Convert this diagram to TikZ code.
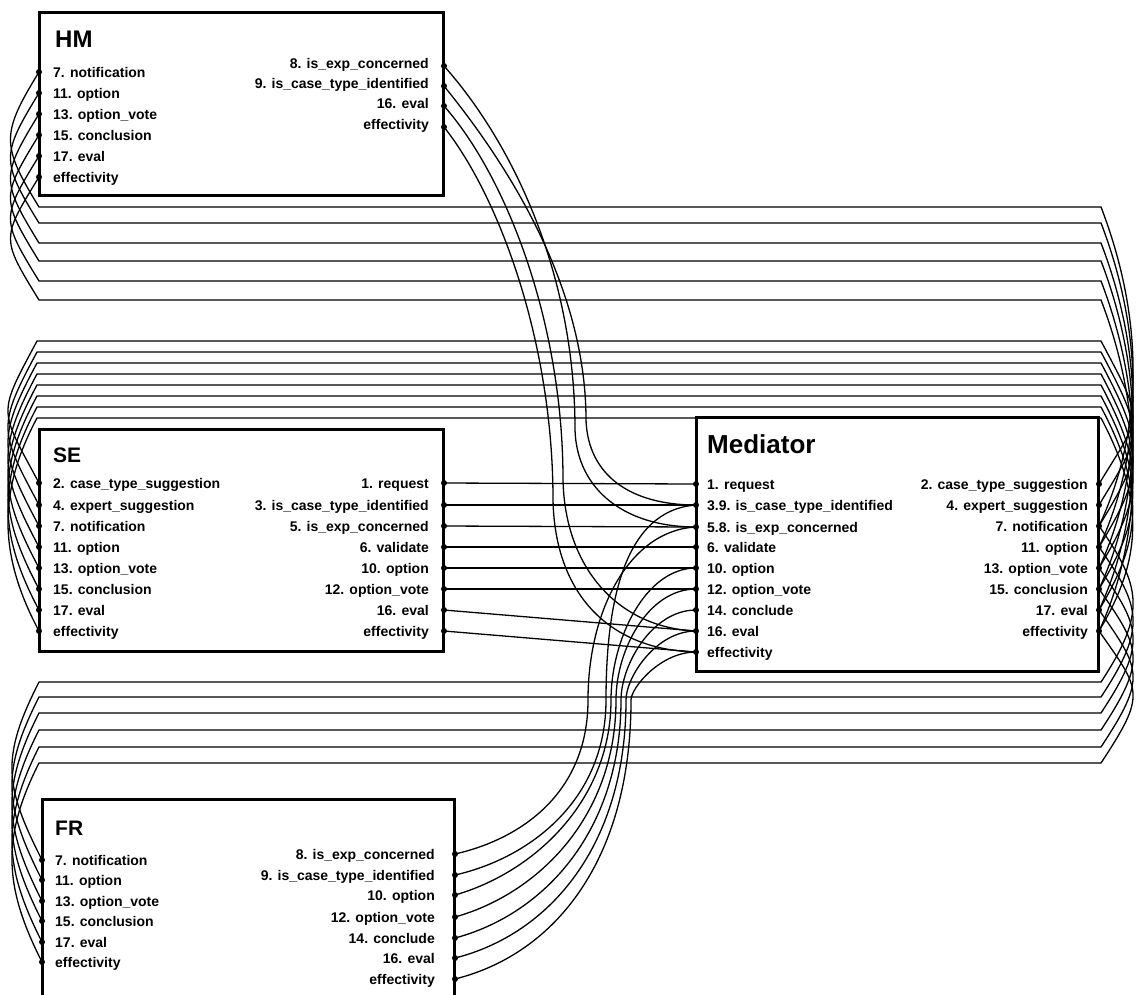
\documentclass[tikz,border=0pt]{standalone}
\usepackage{fontspec}
\setmainfont{Liberation Sans}
\begin{document}
\begin{tikzpicture}[x=1pt,y=-1pt,
  box/.style={draw=black, line width=3pt, fill=white, inner sep=0pt, outer sep=0pt},
  wire/.style={draw=black, line width=1.3pt},
  lbl/.style={font=\fontsize{14}{16}\selectfont\bfseries, inner sep=0pt, yshift=-5pt},
  lblL/.style={lbl, anchor=base west},
  lblR/.style={lbl, anchor=base east},
  ttl/.style={inner sep=0pt, anchor=base west}
]
\fill[white] (0,0) rectangle (1139,994);
\useasboundingbox (0,0) rectangle (1139,994);
\clip (0,0) rectangle (1139,994);

% boxes
\node[box, minimum width=404pt, minimum height=183pt] (HM) at (241,103.5) {};
\node[box, minimum width=404pt, minimum height=222pt] (SE) at (241,540) {};
\node[box, minimum width=402pt, minimum height=254pt] (MED) at (897,544) {};
\node[box, minimum width=412pt, minimum height=211pt] (FR) at (248,904.5) {};

% titles
\node[ttl, font=\fontsize{24}{26}\selectfont\bfseries] (hmT) at (55,47) {HM};
\node[ttl, font=\fontsize{21}{24}\selectfont\bfseries] (seT) at (53,462) {SE};
\node[ttl, font=\fontsize{26}{30}\selectfont\bfseries] (medT) at (707,453) {Mediator};
\node[ttl, font=\fontsize{21}{24}\selectfont\bfseries] (frT) at (55,835) {FR};

% ports
\foreach \i/\y in {1/72,2/93,3/114,4/135,5/156,6/177} \coordinate (hmL\i) at (39,\y);
\foreach \i/\y in {1/66,2/86,3/106,4/127} \coordinate (hmR\i) at (444,\y);
\foreach \i/\y in {1/483,2/505,3/526,4/547,5/568,6/589,7/610,8/631} {
  \coordinate (seL\i) at (39,\y); \coordinate (seR\i) at (444,\y);}
\foreach \i/\y in {1/484,2/505,3/527,4/547,5/568,6/589,7/610,8/631,9/652} \coordinate (mL\i) at (696,\y);
\foreach \i/\y in {1/484,2/505,3/526,4/547,5/568,6/589,7/610,8/631} \coordinate (mR\i) at (1099,\y);
\foreach \i/\y in {1/860,2/880,3/901,4/921,5/942,6/962} \coordinate (frL\i) at (42,\y);
\foreach \i/\y in {1/854,2/875,3/895,4/917,5/938,6/958,7/979} \coordinate (frR\i) at (455,\y);

% channel ends
\foreach \i/\y in {1/207,2/223,3/243,4/261,5/281,6/300} {
  \coordinate (aL\i) at (39,\y); \coordinate (aR\i) at (1101,\y);}
\foreach \i/\y in {1/341,2/352,3/363,4/374,5/385,6/396,7/407,8/418} {
  \coordinate (bL\i) at (37,\y); \coordinate (bR\i) at (1101,\y);}
\foreach \i/\y in {1/682,2/697,3/713,4/730,5/747,6/763} {
  \coordinate (cL\i) at (39,\y); \coordinate (cR\i) at (1101,\y);}

% HM left -> Mediator right
\foreach \i/\j in {1/3,2/4,3/5,4/6,5/7,6/8}
  \draw[wire] (hmL\i) .. controls +(-38,62) and +(-38,-62) .. (aL\i) -- (aR\i)
     .. controls +(46,120) and +(42,-90) .. (mR\j);
% SE left -> Mediator right
\foreach \i in {1,...,8}
  \draw[wire] (seL\i) .. controls +(-40,-75) and +(-40,75) .. (bL\i) -- (bR\i)
     .. controls +(45,85) and +(42,-70) .. (mR\i);
% FR left -> Mediator right
\foreach \i/\j in {1/3,2/4,3/5,4/6,5/7,6/8}
  \draw[wire] (frL\i) .. controls +(-38,-75) and +(-38,75) .. (cL\i) -- (cR\i)
     .. controls +(46,-70) and +(42,60) .. (mR\j);

% SE right -> Mediator left
\foreach \i/\j in {1/1,2/2,3/3,4/4,5/5,6/6,7/8,8/9}
  \draw[wire] (seR\i) -- (mL\j);

% HM right -> Mediator left
\draw[wire] (hmR1) .. controls (510,140) and (575,270) .. (575,430)
   .. controls (577,490) and (625,527) .. (mL3);
\draw[wire] (hmR2) .. controls (500,155) and (586,280) .. (586,420)
   .. controls (588,475) and (630,505) .. (mL2);
\draw[wire] (hmR3) .. controls (505,175) and (563,320) .. (563,480)
   .. controls (565,570) and (620,628) .. (mL8);
\draw[wire] (hmR4) .. controls (498,195) and (553,340) .. (553,500)
   .. controls (555,595) and (610,650) .. (mL9);

% FR right -> Mediator left
\draw[wire] (frR1) .. controls (525,838) and (588,790) .. (588,700)
   .. controls (588,610) and (630,530) .. (mL3);
\draw[wire] (frR2) .. controls (530,858) and (606,800) .. (606,700)
   .. controls (606,600) and (625,510) .. (mL2);
\draw[wire] (frR3) .. controls (535,872) and (611,800) .. (611,700)
   .. controls (611,640) and (645,568) .. (mL5);
\draw[wire] (frR4) .. controls (540,893) and (616,815) .. (616,700)
   .. controls (616,650) and (648,589) .. (mL6);
\draw[wire] (frR5) .. controls (545,914) and (621,830) .. (621,700)
   .. controls (621,665) and (652,610) .. (mL7);
\draw[wire] (frR6) .. controls (550,934) and (626,845) .. (626,700)
   .. controls (626,677) and (656,631) .. (mL8);
\draw[wire] (frR7) .. controls (555,954) and (631,860) .. (631,700)
   .. controls (631,688) and (660,652) .. (mL9);

% dots
\foreach \p in {hmL1,hmL2,hmL3,hmL4,hmL5,hmL6,hmR1,hmR2,hmR3,hmR4,
  seL1,seL2,seL3,seL4,seL5,seL6,seL7,seL8,seR1,seR2,seR3,seR4,seR5,seR6,seR7,seR8,
  mL1,mL2,mL3,mL4,mL5,mL6,mL7,mL8,mL9,mR1,mR2,mR3,mR4,mR5,mR6,mR7,mR8,
  frL1,frL2,frL3,frL4,frL5,frL6,frR1,frR2,frR3,frR4,frR5,frR6,frR7}
  \fill (\p) circle (3pt);

% labels
\foreach \t [count=\i] in {7. notification,11. option,13. option\_vote,15. conclusion,17. eval,effectivity}
  \node[lblL, xshift=14pt] (hmLt\i) at (hmL\i) {\t};
\foreach \t [count=\i] in {8. is\_exp\_concerned,9. is\_case\_type\_identified,16. eval,effectivity}
  \node[lblR, xshift=-15pt, yshift=3pt] (hmRt\i) at (hmR\i) {\t};
\foreach \t [count=\i] in {2. case\_type\_suggestion,4. expert\_suggestion,7. notification,11. option,13. option\_vote,15. conclusion,17. eval,effectivity}
  \node[lblL, xshift=14pt] (seLt\i) at (seL\i) {\t};
\foreach \t [count=\i] in {1. request,3. is\_case\_type\_identified,5. is\_exp\_concerned,6. validate,10. option,12. option\_vote,16. eval,effectivity}
  \node[lblR, xshift=-15pt] (seRt\i) at (seR\i) {\t};
\foreach \t [count=\i] in {1. request,3.9. is\_case\_type\_identified,5.8. is\_exp\_concerned,6. validate,10. option,12. option\_vote,14. conclude,16. eval,effectivity}
  \node[lblL, xshift=11pt] (mLt\i) at (mL\i) {\t};
\foreach \t [count=\i] in {2. case\_type\_suggestion,4. expert\_suggestion,7. notification,11. option,13. option\_vote,15. conclusion,17. eval,effectivity}
  \node[lblR, xshift=-11pt] (mRt\i) at (mR\i) {\t};
\foreach \t [count=\i] in {7. notification,11. option,13. option\_vote,15. conclusion,17. eval,effectivity}
  \node[lblL, xshift=13pt] (frLt\i) at (frL\i) {\t};
\foreach \t [count=\i] in {8. is\_exp\_concerned,9. is\_case\_type\_identified,10. option,12. option\_vote,14. conclude,16. eval,effectivity}
  \node[lblR, xshift=-20pt] (frRt\i) at (frR\i) {\t};
\end{tikzpicture}
\end{document}
